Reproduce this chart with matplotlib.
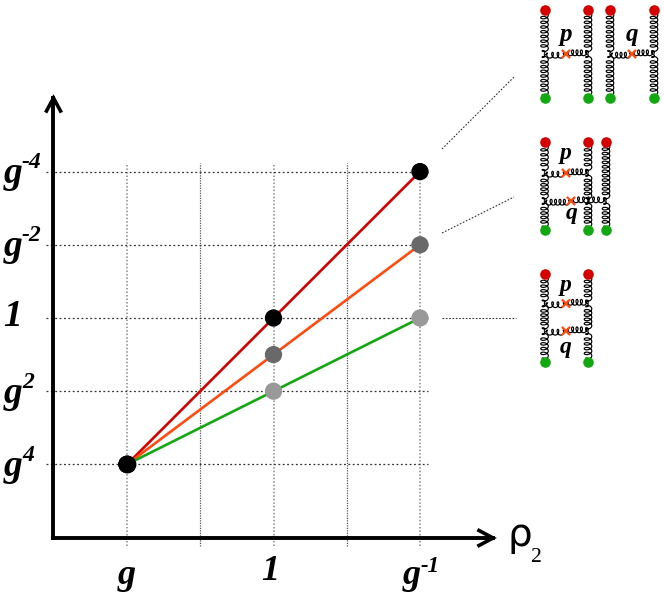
import numpy as np
import matplotlib
matplotlib.use("Agg")
import matplotlib.pyplot as plt

W, H = 664, 594

# ---- data (log_g scale) ----
x_vals = [-1, 0, 1]
x_labels = ["g", "1", "g"]
x_label_sups = ["", "", "-1"]
y_ticks = [4, 2, 0, -2, -4]
y_label_sups = ["-4", "-2", "", "2", "4"]
y_label_base = ["g", "g", "1", "g", "g"]
x_major = [-1, 0, 1]
x_minor = [-0.5, 0.5]
top_line = [-4, 0, 4]
mid_line = [-4, -1, 2]
low_line = [-4, -2, 0]
top_colors = ["black", "black", "black"]
mid_colors = ["black", "#696969", "#696969"]
low_colors = ["black", "#999999", "#999999"]

RED = "#d40000"
ORANGE = "#ff4a10"
GREEN = "#12a812"

fig = plt.figure(figsize=(W / 100, H / 100), dpi=100)
ax = fig.add_axes([0, 0, 1, 1])
sx, x0 = 146.5, 273.5
sy, y0 = 36.6, 318
ax.set_xlim(-x0 / sx, (W - x0) / sx)
ax.set_ylim((y0 - H) / sy, y0 / sy)
ax.axis("off")

# overlay in pixel coordinates for the decoration
px = fig.add_axes([0, 0, 1, 1], facecolor="none")
px.set_xlim(0, W)
px.set_ylim(H, 0)
px.axis("off")

# grid
for xv in x_major:
    ax.plot([xv, xv], [(y0 - 546) / sy, (y0 - 163) / sy], color="#888888",
            lw=1.1, ls=(0, (1, 1.3)), zorder=1)
for xv in x_minor:
    ax.plot([xv, xv], [(y0 - 546) / sy, (y0 - 163) / sy], color="#555555",
            lw=0.9, ls=(0, (1, 1)), zorder=1)
for yv in y_ticks:
    ax.plot([(46 - x0) / sx, (428 - x0) / sx], [yv, yv], color="#333333",
            lw=0.9, ls=(0, (1.5, 2)), zorder=1)

# series
for vals, c, cols in [(top_line, RED, top_colors), (mid_line, ORANGE, mid_colors),
                      (low_line, GREEN, low_colors)]:
    ax.plot(x_vals, vals, color=c, lw=1.9, zorder=2)
    ax.scatter(x_vals, vals, c=cols, s=155, zorder=3, linewidths=0)
ax.scatter(x_vals[0], top_line[0], c="black", s=165, zorder=4, linewidths=0)

# axes arrows
px.plot([53, 53], [538, 98], color="black", lw=2.8, solid_capstyle="projecting", zorder=5)
px.plot([53, 493], [538, 538], color="black", lw=2.8, solid_capstyle="projecting", zorder=5)
px.plot([46.5, 53.5, 60.5], [111, 98, 111], color="black", lw=2.6, solid_joinstyle="miter", zorder=5)
px.plot([479, 493, 479], [530.5, 538, 545.5], color="black", lw=2.6, solid_joinstyle="miter", zorder=5)

# tick labels
serif = dict(family="Liberation Serif", weight="bold", style="italic", color="black")
for xv, b, s in zip(x_vals, x_labels, x_label_sups):
    xp = x0 + sx * xv
    if s:
        px.text(xp + 1, 575, b, fontsize=26, ha="right", va="center", **serif)
        px.text(xp + 1, 566, s, fontsize=16.5, ha="left", va="center", **serif)
    elif b == "g":
        px.text(xp, 575, b, fontsize=26, ha="center", va="center", **serif)
    else:
        px.text(xp - 3, 571, b, fontsize=26, ha="center", va="center", **serif)
for yv, b, s in zip(y_ticks, y_label_base, y_label_sups):
    yp = y0 - sy * yv
    if s:
        px.text(22, yp + 2, b, fontsize=27, ha="right", va="center", **serif)
        px.text(22, yp - 9, s, fontsize=17, ha="left", va="center", **serif)
    else:
        px.text(13, yp - 1, b, fontsize=27, ha="center", va="center", **serif)

px.text(520, 535, "ρ", fontsize=28, ha="center", va="center", family="DejaVu Sans", color="black")
px.text(536.5, 557, "2", fontsize=15.5, ha="center", va="center", family="Liberation Serif", color="black")

# connector lines
for a, b in [((442, 149), (515, 76)), ((442, 233), (514, 197)), ((442, 318), (516, 318))]:
    px.plot([a[0], b[0]], [a[1], b[1]], color="#333333", lw=0.8, ls=(0, (1.5, 1.5)))


def coil(p, q, pitch=4.6, amp=3.8, up=0.0, wob=2.3):
    p, q = np.array(p, float), np.array(q, float)
    d = q - p
    L = np.hypot(*d)
    u, n = d / L, np.array([-d[1], d[0]]) / L
    loops = max(2, int(round(L / pitch)))
    t = np.linspace(0, 1, loops * 24)
    ph = 2 * np.pi * loops * t
    env = np.clip(np.minimum(t, 1 - t) * loops * 1.2, 0, 1)
    along = L * t + wob * np.sin(ph) * env
    across = (up + amp * (-np.cos(ph))) * env
    pts = p + np.outer(along, u) + np.outer(across, n)
    px.plot(pts[:, 0], pts[:, 1], color="black", lw=0.85, zorder=6)


def cross(x, y):
    r = 3.3
    px.plot([x - r, x + r], [y - r, y + r], color=ORANGE, lw=1.6, zorder=7)
    px.plot([x - r, x + r], [y + r, y - r], color=ORANGE, lw=1.6, zorder=7)


def ends(x, y1, y2):
    px.scatter([x], [y1], c=RED, s=58, linewidths=0, zorder=8)
    px.scatter([x], [y2], c=GREEN, s=58, linewidths=0, zorder=8)


def leg(x, ys):
    for a, b in zip(ys[:-1], ys[1:]):
        coil((x, a + 1), (x, b - 1))


def rung(x1, x2, y, xc):
    coil((xc, y), (x1, y), amp=2.9, up=-1.2, pitch=4.8, wob=2.0)
    coil((x2, y), (xc, y), amp=2.9, up=1.2, pitch=4.8, wob=2.0)
    cross(xc, y)


def label(x, y, s, size=16):
    px.text(x, y, s, fontsize=size, ha="center", va="center", **serif)


# diagram 1
for x in (544.5, 588, 610, 654):
    ends(x, 9.5, 98)
    leg(x, [9.5, 54, 98])
rung(544.5, 588, 54, 566)
rung(610, 654, 54, 632)
label(566, 35, "p", 18)
label(632, 35, "q", 18)

# diagram 2
for x in (544.5, 588, 606):
    ends(x, 141.5, 229.5)
leg(544.5, [141.5, 173, 201, 229.5])
leg(588, [141.5, 173, 201, 229.5])
leg(606, [141.5, 201, 229.5])
rung(544.5, 606, 201, 571)
rung(544.5, 588, 173, 566)
label(566, 154, "p", 17)
label(572, 214, "q", 17)

# diagram 3
for x in (544.5, 588):
    ends(x, 273.5, 361.5)
    leg(x, [273.5, 303.5, 331, 361.5])
rung(544.5, 588, 303.5, 566)
rung(544.5, 588, 331, 566)
label(566, 286, "p", 17)
label(566, 347, "q", 17)

fig.savefig("out.png", dpi=100, facecolor="white")
